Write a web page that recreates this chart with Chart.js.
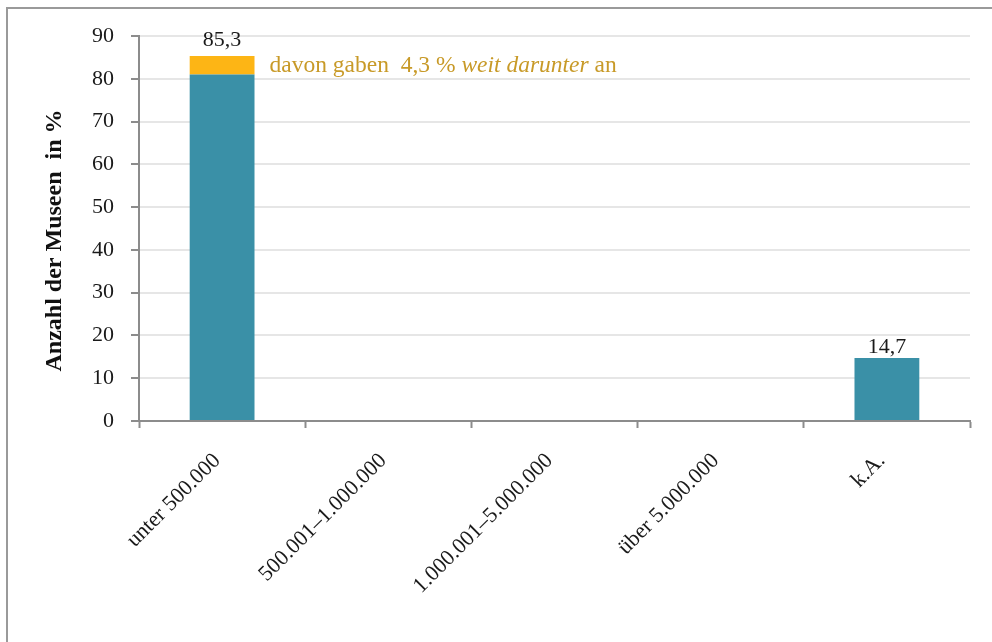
<!DOCTYPE html>
<html>
<head>
<meta charset="utf-8">
<script src="https://cdn.jsdelivr.net/npm/chart.js@4.4.1/dist/chart.umd.min.js"></script>
<style>
  html, body { margin: 0; padding: 0; background: #ffffff; }
  #wrap { position: relative; width: 992px; height: 642px; }
</style>
</head>
<body>
<div id="wrap"><canvas id="c" width="992" height="642"></canvas></div>
<script>
// Besucherzahlen-Klassen und Anteile der Museen (in %)
const categories = ['unter 500.000', '500.001–1.000.000', '1.000.001–5.000.000', 'über 5.000.000', 'k.A.'];
const totals = [85.3, 0, 0, 0, 14.7];        // Gesamtanteil je Klasse
const weitDarunter = [4.3, 0, 0, 0, 0];      // davon "weit darunter"
const yTicks = [0, 10, 20, 30, 40, 50, 60, 70, 80, 90];

const baseShare = totals.map((t, i) => +(t - weitDarunter[i]).toFixed(1));

const SERIF = '"Liberation Serif", "DejaVu Serif", serif';
const TEAL = '#3a90a7';
const GOLD = '#fdb515';
const NOTE = '#c89a28';

const fmt = v => v.toFixed(1).replace('.', ',');

// Rahmen um die Grafik
const framePlugin = {
  id: 'frame',
  beforeDraw(chart) {
    const ctx = chart.ctx;
    ctx.save();
    ctx.strokeStyle = '#9a9a9a';
    ctx.lineWidth = 2;
    ctx.beginPath();
    ctx.moveTo(7, 700);
    ctx.lineTo(7, 8);
    ctx.lineTo(1100, 8);
    ctx.stroke();
    ctx.restore();
  }
};

// Summenwerte über den Säulen und Hinweistext
const labelPlugin = {
  id: 'valueLabels',
  afterDatasetsDraw(chart) {
    const ctx = chart.ctx;
    const y = chart.scales.y;
    const metaBase = chart.getDatasetMeta(0);
    ctx.save();
    ctx.font = '22px ' + SERIF;
    ctx.fillStyle = '#1a1a1a';
    ctx.textAlign = 'center';
    ctx.textBaseline = 'alphabetic';
    totals.forEach((t, i) => {
      if (t <= 0) return;
      const bar = metaBase.data[i];
      // gestapelte Säule: Summe etwas höher absetzen
      const gap = weitDarunter[i] > 0 ? 10 : 5;
      ctx.fillText(fmt(t), bar.x, y.getPixelForValue(t) - gap);
    });

    // Hinweis neben dem oberen Segment
    const metaTop = chart.getDatasetMeta(1);
    const seg = metaTop.data[0];
    const x0 = seg.x + seg.width / 2 + 15;
    const yc = (seg.y + seg.base) / 2 + 1;
    ctx.textAlign = 'left';
    ctx.textBaseline = 'middle';
    ctx.fillStyle = NOTE;
    const parts = [
      ['davon gaben  ' + fmt(weitDarunter[0]) + ' % ', ''],
      ['weit darunter', 'italic '],
      [' an', '']
    ];
    let x = x0;
    parts.forEach(([txt, style]) => {
      ctx.font = style + '23.5px ' + SERIF;
      ctx.fillText(txt, x, yc);
      x += ctx.measureText(txt).width;
    });
    ctx.restore();
  }
};

new Chart(document.getElementById('c'), {
  type: 'bar',
  data: {
    labels: categories,
    datasets: [
      { label: 'Anteil', data: baseShare, backgroundColor: TEAL, borderWidth: 0, stack: 's' },
      { label: 'davon weit darunter', data: weitDarunter, backgroundColor: GOLD, borderWidth: 0, stack: 's' }
    ]
  },
  options: {
    responsive: false,
    animation: false,
    devicePixelRatio: 1,
    layout: { padding: { left: 40, right: 22, top: 36, bottom: 0 } },
    categoryPercentage: 1,
    barPercentage: 0.39,
    plugins: {
      legend: { display: false },
      tooltip: { enabled: false }
    },
    scales: {
      x: {
        stacked: true,
        grid: {
          offset: true,
          drawOnChartArea: false,
          drawTicks: true,
          tickLength: 7,
          tickColor: '#8c8c8c',
          tickWidth: 2
        },
        border: { color: '#8c8c8c', width: 2 },
        ticks: {
          color: '#1a1a1a',
          font: { family: SERIF, size: 22 },
          maxRotation: 45,
          minRotation: 45,
          padding: 20,
          labelOffset: -5,
          autoSkip: false
        },
        afterFit(scale) { scale.height = 221; }
      },
      y: {
        stacked: true,
        min: 0,
        max: 90,
        afterBuildTicks(scale) { scale.ticks = yTicks.map(v => ({ value: v })); },
        grid: {
          color: '#e6e6e6',
          lineWidth: 2,
          tickLength: 8,
          tickColor: '#8c8c8c',
          tickWidth: 2
        },
        border: { color: '#8c8c8c', width: 2 },
        ticks: {
          color: '#1a1a1a',
          font: { family: SERIF, size: 22 },
          padding: 17
        },
        title: {
          display: true,
          text: 'Anzahl der Museen  in %\u00a0\u00a0\u00a0\u00a0',
          color: '#111111',
          font: { family: SERIF, size: 24, weight: 'bold' },
          padding: { top: 0, bottom: 0 }
        },
        afterFit(scale) { scale.width = 139 - 40; }
      }
    }
  },
  plugins: [framePlugin, labelPlugin]
});
</script>
</body>
</html>
